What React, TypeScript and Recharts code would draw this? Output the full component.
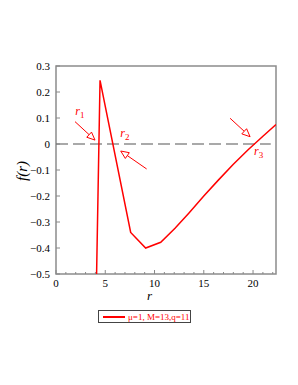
import { LineChart, Line, XAxis, YAxis, ReferenceLine, ReferenceArea, ReferenceDot } from "recharts"

// curve samples (r, f(r))
const rValues = [4.12, 4.47, 7.58, 9.1, 10.63, 12.08, 13.5, 15, 16.5, 18, 19.5, 21, 22.33]
const fValues = [-0.5, 0.245, -0.34, -0.4, -0.378, -0.324, -0.265, -0.2, -0.138, -0.078, -0.022, 0.03, 0.075]

const xTicks = [0, 1, 2, 3, 4, 5, 6, 7, 8, 9, 10, 11, 12, 13, 14, 15, 16, 17, 18, 19, 20, 21, 22]
const xMajor = [0, 5, 10, 15, 20]
const yTicks = [-0.5, -0.4, -0.3, -0.2, -0.1, 0, 0.1, 0.2, 0.3]

// arrows pointing at the roots: tail -> tip, in data units
const arrowTails = [[1.93, 0.086], [9.2, -0.096], [17.67, 0.099]]
const arrowTips = [[3.96, 0.015], [6.57, -0.027], [19.7, 0.028]]
const rootSubs = ["1", "2", "3"]
const rootLabelPos = [[2.26, 0.124], [6.83, 0.037], [20.4, -0.03]]

const legendText = "μ=1, M=13,q=11"

const data = rValues.map((r, i) => ({ r, f: fValues[i] }))
const SERIF = "'Liberation Serif', 'Times New Roman', serif"
const RED = "#ff0000"

const fmt = (v: number) => (v < 0 ? "\u2212" + Math.abs(v).toFixed(1) : v === 0 ? "0" : v.toFixed(1))

const XTick = (p: any) => {
  const { x, y, payload } = p
  const axisY = y - 8
  const major = xMajor.includes(payload.value)
  return (
    <g>
      <line x1={x} x2={x} y1={axisY} y2={axisY - (major ? 4 : 2)} stroke="#888" />
      {major && (
        <text x={x} y={axisY + 13} textAnchor="middle" style={{ fontFamily: SERIF, fontSize: 11 }} fill="#000">
          {payload.value}
        </text>
      )}
    </g>
  )
}

const YTick = (p: any) => {
  const { x, y, payload } = p
  const axisX = x + 6
  return (
    <g>
      <line x1={axisX} x2={axisX + 4} y1={y} y2={y} stroke="#888" />
      <text x={x} y={y + 4} textAnchor="end" style={{ fontFamily: SERIF, fontSize: 11 }} fill="#000">
        {fmt(payload.value)}
      </text>
    </g>
  )
}

const ArrowShape = (p: any) => {
  const { x1, y1, x2, y2 } = p
  const dx = x2 - x1
  const dy = y2 - y1
  const len = Math.sqrt(dx * dx + dy * dy)
  const ux = dx / len
  const uy = dy / len
  const hl = 8
  const hw = 3.5
  const bx = x2 - ux * hl
  const by = y2 - uy * hl
  const pts = `${x2},${y2} ${bx - uy * hw},${by + ux * hw} ${bx + uy * hw},${by - ux * hw}`
  return (
    <g>
      <line x1={x1} y1={y1} x2={bx} y2={by} stroke={RED} strokeWidth={1} />
      <polygon points={pts} fill="#fff" stroke={RED} strokeWidth={1} />
    </g>
  )
}

const makeRootLabel = (sub: string) => (p: any) => (
  <text x={p.cx - 3} y={p.cy + 3} style={{ fontFamily: SERIF, fontStyle: "italic", fontSize: 12 }} fill={RED}>
    r
    <tspan dy={3} style={{ fontSize: 9, fontStyle: "normal" }}>{sub}</tspan>
  </text>
)

export default function App() {
  return (
    <div style={{ position: "absolute", left: 0, top: 0, width: 298, height: 385, background: "#fff" }}>
      <LineChart width={298} height={385} data={data} margin={{ top: 66, right: 22, left: 16, bottom: 91 }}>
        <ReferenceArea x1={0} x2={22.33} y1={-0.5} y2={0.3} fill="none" fillOpacity={0} stroke="#8c8c8c" strokeWidth={1.5} />
        <XAxis dataKey="r" type="number" domain={[0, 22.33]} ticks={xTicks} allowDataOverflow height={20}
          axisLine={false} tickLine={false} tickSize={0} tickMargin={8} tick={<XTick />} interval={0} />
        <YAxis type="number" domain={[-0.5, 0.3]} ticks={yTicks} allowDataOverflow width={40}
          axisLine={false} tickLine={false} tickSize={0} tickMargin={6} tick={<YTick />} interval={0} />
        <ReferenceLine segment={[{ x: 0, y: 0 }, { x: 21.8, y: 0 }]} stroke="#555" strokeWidth={1.2} strokeDasharray="12 5" />
        <Line type="linear" dataKey="f" stroke={RED} strokeWidth={1.5} dot={false} isAnimationActive={false} />
        {arrowTails.map((t, i) => (
          <ReferenceLine key={`arrow-${i}`} segment={[{ x: t[0], y: t[1] }, { x: arrowTips[i][0], y: arrowTips[i][1] }]}
            shape={ArrowShape} />
        ))}
        {rootLabelPos.map((pos, i) => (
          <ReferenceDot key={`lbl-${i}`} x={pos[0]} y={pos[1]} r={0} shape={makeRootLabel(rootSubs[i])} />
        ))}
      </LineChart>
      <div style={{ position: "absolute", left: 22, top: 171, transform: "translate(-50%, -50%) rotate(-90deg)",
        fontFamily: SERIF, fontStyle: "italic", fontSize: 15, lineHeight: 1, whiteSpace: "nowrap" }}>
        f(r)
      </div>
      <div style={{ position: "absolute", left: 147, top: 289, fontFamily: SERIF, fontStyle: "italic", fontSize: 13, lineHeight: 1 }}>r</div>
      <div style={{ position: "absolute", left: 98, top: 310, width: 91, height: 11, border: "1px solid #444",
        background: "#fff", display: "flex", alignItems: "center" }}>
        <div style={{ width: 22, height: 0, borderTop: `2px solid ${RED}`, marginLeft: 4, marginRight: 3 }} />
        <span style={{ fontFamily: SERIF, fontSize: 9, color: RED, whiteSpace: "nowrap" }}>{legendText}</span>
      </div>
    </div>
  )
}
